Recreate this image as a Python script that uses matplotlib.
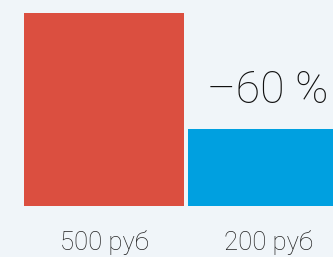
import matplotlib.pyplot as plt

# data
labels = ['500 руб', '200 руб']
prices = [500, 200]
colors = ['#db4f40', '#00a0e0']
discount_text = '–60 %'

bg = '#f0f5f9'

fig = plt.figure(figsize=(3.33, 2.57), dpi=100)
fig.patch.set_facecolor(bg)
ax = fig.add_axes([0, 0, 1, 1])
ax.set_facecolor(bg)

x = list(range(len(prices)))
ax.bar(x, prices, width=0.976, color=colors)

for xi, lab in zip(x, labels):
    ax.text(xi, -114, lab, ha='center', va='baseline', fontsize=18.5,
            family='Roboto', fontweight='light', color='#222222')

ax.text(x[1], 267, discount_text, ha='center', va='baseline', fontsize=32,
        family='Roboto', fontweight='light', color='#111111')

ax.set_xlim(-0.634, 1.396)
ax.set_ylim(-132.1, 533.7)
ax.axis('off')

fig.savefig('out.png', dpi=100, facecolor=bg)
